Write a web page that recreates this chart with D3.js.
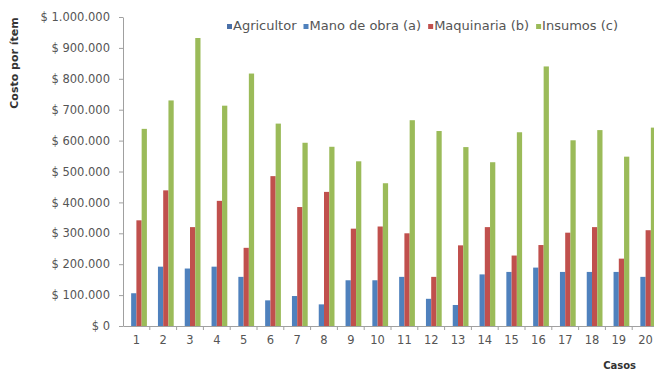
<!DOCTYPE html>
<html>
<head>
<meta charset="utf-8">
<script src="https://cdn.jsdelivr.net/npm/d3@7"></script>
<style>
  html, body { margin: 0; padding: 0; background: #fff; }
  svg { display: block; font-family: "DejaVu Sans", Verdana, sans-serif; }
</style>
</head>
<body>
<svg id="chart" width="654" height="378"></svg>
<script>
// Cost per item for each case
const casos = ["1","2","3","4","5","6","7","8","9","10","11","12","13","14","15","16","17","18","19","20"];
const seriesNames = ["Agricultor", "Mano de obra (a)", "Maquinaria (b)", "Insumos (c)"];
const agricultor = [0,0,0,0,0,0,0,0,0,0,0,0,0,0,0,0,0,0,0,0];
const manoDeObra = [106000,192000,186000,192000,159000,83000,97000,70000,148000,148000,159000,88000,68000,167000,175000,189000,175000,175000,175000,159000];
const maquinaria = [342000,439000,320000,405000,253000,485000,385000,434000,315000,322000,300000,159000,261000,320000,228000,262000,302000,320000,218000,310000];
const insumos    = [638000,730000,932000,713000,817000,655000,593000,580000,533000,462000,666000,631000,579000,530000,627000,840000,601000,634000,548000,642000];
const yTicks = [0,100000,200000,300000,400000,500000,600000,700000,800000,900000,1000000];
const colors = ["#4A70A8", "#4F81BD", "#C0504D", "#9BBB59"];

const values = [agricultor, manoDeObra, maquinaria, insumos];
const rows = casos.map((c, i) => ({ caso: c, vals: values.map(s => s[i]) }));

const svg = d3.select("#chart");
const plotLeft = 123, plotRight = 659, plotTop = 17, plotBottom = 326;

const x = d3.scaleBand().domain(casos).range([plotLeft, plotRight]).paddingInner(0).paddingOuter(0);
const x1 = d3.scaleBand().domain(d3.range(4)).range([0, 21]);
const groupOffset = (x.bandwidth() - 21) / 2;
const y = d3.scaleLinear().domain([0, 1000000]).range([plotBottom, plotTop]);

const fmt = v => "$ " + d3.format(",")(v).replace(/,/g, ".");

// y axis
const yAxis = svg.append("g")
  .attr("transform", `translate(${plotLeft},0)`)
  .call(d3.axisLeft(y).tickValues(yTicks).tickSize(4).tickSizeOuter(0).tickFormat(fmt).tickPadding(9));
yAxis.select(".domain").attr("stroke", "#a0a0a0");
yAxis.selectAll(".tick line").attr("stroke", "#a0a0a0");
yAxis.selectAll(".tick text").attr("fill", "#555").attr("font-size", 11.5)
  .attr("font-family", "'DejaVu Sans', Verdana, sans-serif");

// bars
const groups = svg.append("g").selectAll("g")
  .data(rows).join("g")
  .attr("transform", d => `translate(${x(d.caso) + groupOffset},0)`);
groups.selectAll("rect")
  .data(d => d.vals.map((v, k) => ({ v, k })))
  .join("rect")
  .attr("x", d => x1(d.k))
  .attr("width", x1.bandwidth())
  .attr("y", d => y(d.v))
  .attr("height", d => plotBottom - y(d.v))
  .attr("fill", d => colors[d.k]);

// x axis
const xAxis = svg.append("g")
  .attr("transform", `translate(0,${plotBottom})`)
  .call(d3.axisBottom(x).tickSize(0).tickPadding(10));
xAxis.select(".domain").attr("stroke", "#a0a0a0");
xAxis.selectAll(".tick text").attr("fill", "#555").attr("font-size", 11.5)
  .attr("font-family", "'DejaVu Sans', Verdana, sans-serif");
// tick marks between cases
svg.append("g").selectAll("line")
  .data(casos.slice(1)).join("line")
  .attr("x1", d => x(d)).attr("x2", d => x(d))
  .attr("y1", plotBottom).attr("y2", plotBottom + 4)
  .attr("stroke", "#a0a0a0");

// axis titles
svg.append("text")
  .attr("transform", "translate(18,63) rotate(-90)")
  .attr("text-anchor", "middle")
  .attr("font-size", 11).attr("font-weight", "bold").attr("fill", "#333")
  .text("Costo por ítem");
svg.append("text")
  .attr("x", 636).attr("y", 369)
  .attr("text-anchor", "end")
  .attr("font-size", 10).attr("font-weight", "bold").attr("fill", "#333")
  .text("Casos");

// legend, laid out left to right
const legend = svg.append("g").attr("transform", "translate(227,30)");
let lx = 0;
seriesNames.forEach((name, i) => {
  const item = legend.append("g").attr("transform", `translate(${lx},0)`);
  item.append("rect")
    .attr("x", 0).attr("y", -6).attr("width", 5).attr("height", 5)
    .attr("fill", colors[i]);
  const t = item.append("text")
    .attr("x", 6).attr("y", 0)
    .attr("font-size", 13).attr("fill", "#555")
    .text(name);
  lx += 6 + t.node().getComputedTextLength() + 7;
});
</script>
</body>
</html>
